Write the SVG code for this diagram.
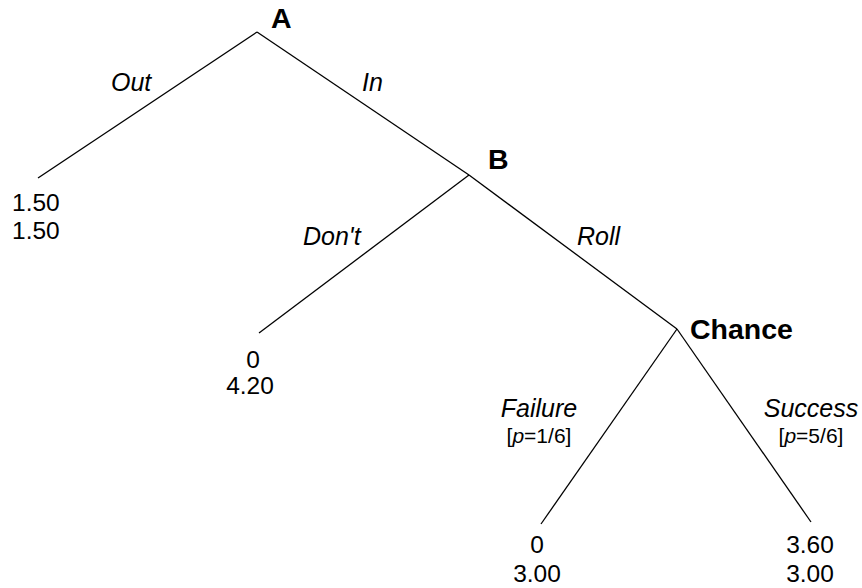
<svg xmlns="http://www.w3.org/2000/svg" width="862" height="588" viewBox="0 0 862 588">
<style>
.edge{stroke:#000;stroke-width:1.3;fill:none}
.node{font-family:"Liberation Sans",Arial,sans-serif;font-weight:bold;font-size:28.5px;fill:#000}
.lbl{font-family:"Liberation Sans",Arial,sans-serif;font-style:italic;font-size:25px;fill:#000}
.prob{font-family:"Liberation Sans",Arial,sans-serif;font-size:21px;fill:#000}
.pay{font-family:"Liberation Sans",Arial,sans-serif;font-size:24.5px;fill:#000}
</style>
<rect width="862" height="588" fill="#fff"/>
<g id="connectors">
<line class="edge" x1="257" y1="32" x2="38" y2="178"/>
<line class="edge" x1="257" y1="32" x2="469" y2="175"/>
<line class="edge" x1="469" y1="175" x2="259" y2="333"/>
<line class="edge" x1="469" y1="175" x2="677" y2="329"/>
<line class="edge" x1="677" y1="329" x2="541" y2="524"/>
<line class="edge" x1="677" y1="329" x2="811" y2="522"/>
<text class="lbl" x="111" y="91">Out</text>
<text class="lbl" x="362" y="91">In</text>
<text class="lbl" x="303" y="245">Don't</text>
<text class="lbl" x="577" y="245">Roll</text>
<text class="lbl" x="539" y="417" text-anchor="middle">Failure</text>
<text class="prob" x="539" y="443" text-anchor="middle">[<tspan font-style="italic">p</tspan>=1/6]</text>
<text class="lbl" x="811" y="417" text-anchor="middle">Success</text>
<text class="prob" x="811" y="443" text-anchor="middle">[<tspan font-style="italic">p</tspan>=5/6]</text>
</g>
<g id="node-A"><text class="node" x="271" y="28">A</text></g>
<g id="node-B"><text class="node" x="488" y="169">B</text></g>
<g id="node-Chance"><text class="node" x="690" y="339">Chance</text></g>
<g id="payoff-out">
<text class="pay" x="12" y="211">1.50</text>
<text class="pay" x="12" y="239">1.50</text>
</g>
<g id="payoff-dont">
<text class="pay" x="253" y="368" text-anchor="middle">0</text>
<text class="pay" x="250" y="394" text-anchor="middle">4.20</text>
</g>
<g id="payoff-failure">
<text class="pay" x="537" y="553" text-anchor="middle">0</text>
<text class="pay" x="537" y="582" text-anchor="middle">3.00</text>
</g>
<g id="payoff-success">
<text class="pay" x="810" y="553" text-anchor="middle">3.60</text>
<text class="pay" x="810" y="582" text-anchor="middle">3.00</text>
</g>
</svg>
